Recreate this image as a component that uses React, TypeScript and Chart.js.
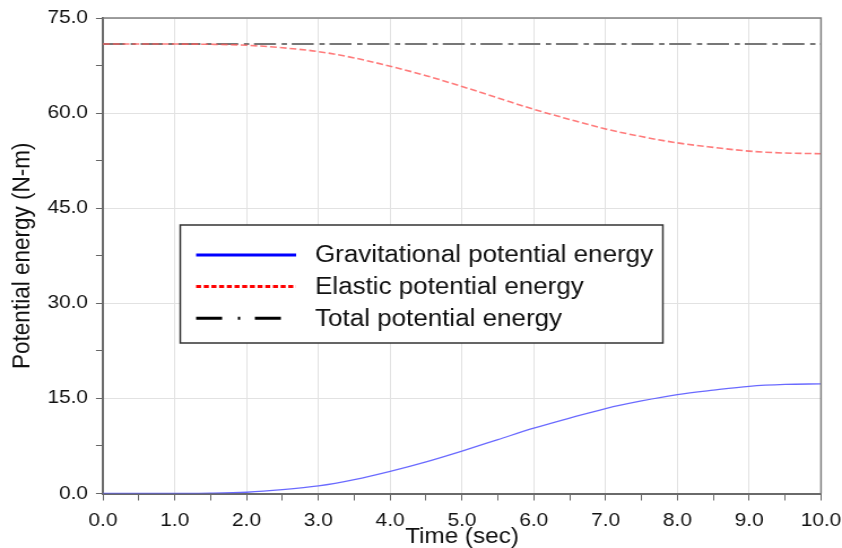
import React, { useEffect, useRef } from "react";
import { Chart, registerables } from "chart.js";

Chart.register(...registerables);

const timeSec = [0, 0.5, 1, 1.5, 2, 2.5, 3, 3.5, 4, 4.5, 5, 5.5, 6, 6.5, 7, 7.5, 8, 8.5, 9, 9.5, 10];
const gravitational = [0, 0, 0.01, 0.05, 0.2, 0.6, 1.2, 2.2, 3.5, 5.0, 6.7, 8.5, 10.3, 11.9, 13.4, 14.6, 15.6, 16.3, 16.9, 17.2, 17.3];
const elastic = [70.9, 70.9, 70.89, 70.85, 70.7, 70.3, 69.7, 68.7, 67.4, 65.9, 64.2, 62.4, 60.6, 59.0, 57.5, 56.3, 55.3, 54.6, 54.0, 53.7, 53.6];
const total = [70.9, 70.9, 70.9, 70.9, 70.9, 70.9, 70.9, 70.9, 70.9, 70.9, 70.9, 70.9, 70.9, 70.9, 70.9, 70.9, 70.9, 70.9, 70.9, 70.9, 70.9];
const seriesLabels = ["Gravitational potential energy", "Elastic potential energy", "Total potential energy"];
const xTitle = "Time (sec)";
const yTitle = "Potential energy (N-m)";

const FONT = "'Liberation Sans', Arial, sans-serif";
const CW = 745; // internal canvas width; stretched horizontally to 842
const SX = 842 / CW;

const frameAndLegend = {
  id: "frameAndLegend",
  afterDraw(chart: any) {
    const ctx = chart.ctx;
    const a = chart.chartArea;
    ctx.save();
    ctx.strokeStyle = "#808080";
    ctx.lineWidth = 1.5;
    ctx.beginPath();
    ctx.moveTo(a.left, a.top);
    ctx.lineTo(a.right, a.top);
    ctx.lineTo(a.right, a.bottom);
    ctx.stroke();
    // legend box (canvas coordinates)
    const bx = 159.5, by = 225, bw = 427, bh = 118;
    ctx.fillStyle = "#ffffff";
    ctx.fillRect(bx, by, bw, bh);
    ctx.strokeStyle = "#333333";
    ctx.lineWidth = 1.5;
    ctx.strokeRect(bx, by, bw, bh);
    const rows = [
      { color: "#0000ff", dash: [] as number[] },
      { color: "#ff0000", dash: [4.4, 2.4] },
      { color: "#000000", dash: [23, 14, 2, 13] },
    ];
    ctx.font = "23px " + FONT;
    ctx.textBaseline = "middle";
    rows.forEach((r, i) => {
      const y = 255 + i * 31.6;
      ctx.strokeStyle = r.color;
      ctx.lineWidth = 3;
      ctx.setLineDash(r.dash);
      ctx.beginPath();
      ctx.moveTo(173.5, y);
      ctx.lineTo(262, y);
      ctx.stroke();
      ctx.setLineDash([]);
      ctx.fillStyle = "#111111";
      ctx.fillText(seriesLabels[i], 278.7, y + 1);
    });
    ctx.restore();
  },
};

export default function App() {
  const ref = useRef<HTMLCanvasElement>(null);
  useEffect(() => {
    const isMajor = (v: number, step: number) => Math.abs(v / step - Math.round(v / step)) < 1e-6;
    const chart = new Chart(ref.current!, {
      type: "line",
      data: {
        datasets: [
          {
            label: seriesLabels[0],
            data: timeSec.map((t, i) => ({ x: t, y: gravitational[i] })),
            borderColor: "rgba(90,90,255,0.9)",
            borderWidth: 1.3,
            pointRadius: 0,
            cubicInterpolationMode: "monotone",
          },
          {
            label: seriesLabels[1],
            data: timeSec.map((t, i) => ({ x: t, y: elastic[i] })),
            borderColor: "rgba(255,90,90,0.8)",
            borderWidth: 1.6,
            borderDash: [6, 2.7],
            pointRadius: 0,
            cubicInterpolationMode: "monotone",
          },
          {
            label: seriesLabels[2],
            data: timeSec.map((t, i) => ({ x: t, y: total[i] })),
            borderColor: "#777777",
            borderWidth: 1.8,
            borderDash: [19.5, 5, 4.7, 4.2],
            pointRadius: 0,
          },
        ],
      },
      options: {
        animation: false,
        responsive: false,
        devicePixelRatio: 1,
        layout: { padding: { top: 18, right: 18.6, left: 0, bottom: 0 } },
        plugins: { legend: { display: false }, tooltip: { enabled: false } },
        scales: {
          x: {
            type: "linear",
            min: 0,
            max: 10,
            afterFit: (s: any) => {
              s.height = 54.5;
              s.paddingLeft = 0;
              s.paddingRight = 0;
            },
            ticks: {
              stepSize: 0.5,
              autoSkip: false,
              maxRotation: 0,
              color: "#111",
              font: { family: FONT, size: 18.5, lineHeight: 1 },
              padding: 11,
              callback: (v: any) => (isMajor(v, 1) ? Number(v).toFixed(1) : ""),
            },
            grid: {
              color: (c: any) => (c.tick && isMajor(c.tick.value, 1) && c.tick.value !== 0 ? "#e2e2e2" : "rgba(0,0,0,0)"),
              tickColor: "#666666",
              tickLength: 7,
              lineWidth: 1,
            },
            border: { color: "#6a6a6a", width: 2 },
            title: {
              display: true,
              text: xTitle,
              color: "#111",
              font: { family: FONT, size: 21.5, lineHeight: 1 },
              padding: { top: 0, bottom: 0 },
            },
          },
          y: {
            min: 0,
            max: 75,
            afterFit: (s: any) => {
              s.width = 91.1;
              s.paddingTop = 0;
              s.paddingBottom = 0;
            },
            ticks: {
              stepSize: 7.5,
              autoSkip: false,
              color: "#111",
              font: { family: FONT, size: 18.5, lineHeight: 1 },
              padding: 7,
              callback: (v: any) => (isMajor(v, 15) ? Number(v).toFixed(1) : ""),
            },
            grid: {
              color: (c: any) => (c.tick && isMajor(c.tick.value, 15) && c.tick.value !== 0 ? "#e2e2e2" : "rgba(0,0,0,0)"),
              tickColor: "#666666",
              tickLength: 6.2,
              lineWidth: 1,
            },
            border: { color: "#6a6a6a", width: 2 },
            title: {
              display: true,
              text: yTitle,
              color: "#111",
              font: { family: FONT, size: 22.5, lineHeight: 1 },
              padding: { top: 8.5, bottom: 0 },
            },
          },
        },
      },
      plugins: [frameAndLegend],
    } as any);
    return () => chart.destroy();
  }, []);
  return (
    <div style={{ position: "fixed", left: 0, top: 0, width: 842, height: 548, background: "#fff", overflow: "hidden" }}>
      <div style={{ width: CW, height: 548, transform: `scaleX(${SX})`, transformOrigin: "0 0" }}>
        <canvas ref={ref} width={CW} height={548} style={{ width: CW, height: 548, display: "block" }} />
      </div>
    </div>
  );
}
